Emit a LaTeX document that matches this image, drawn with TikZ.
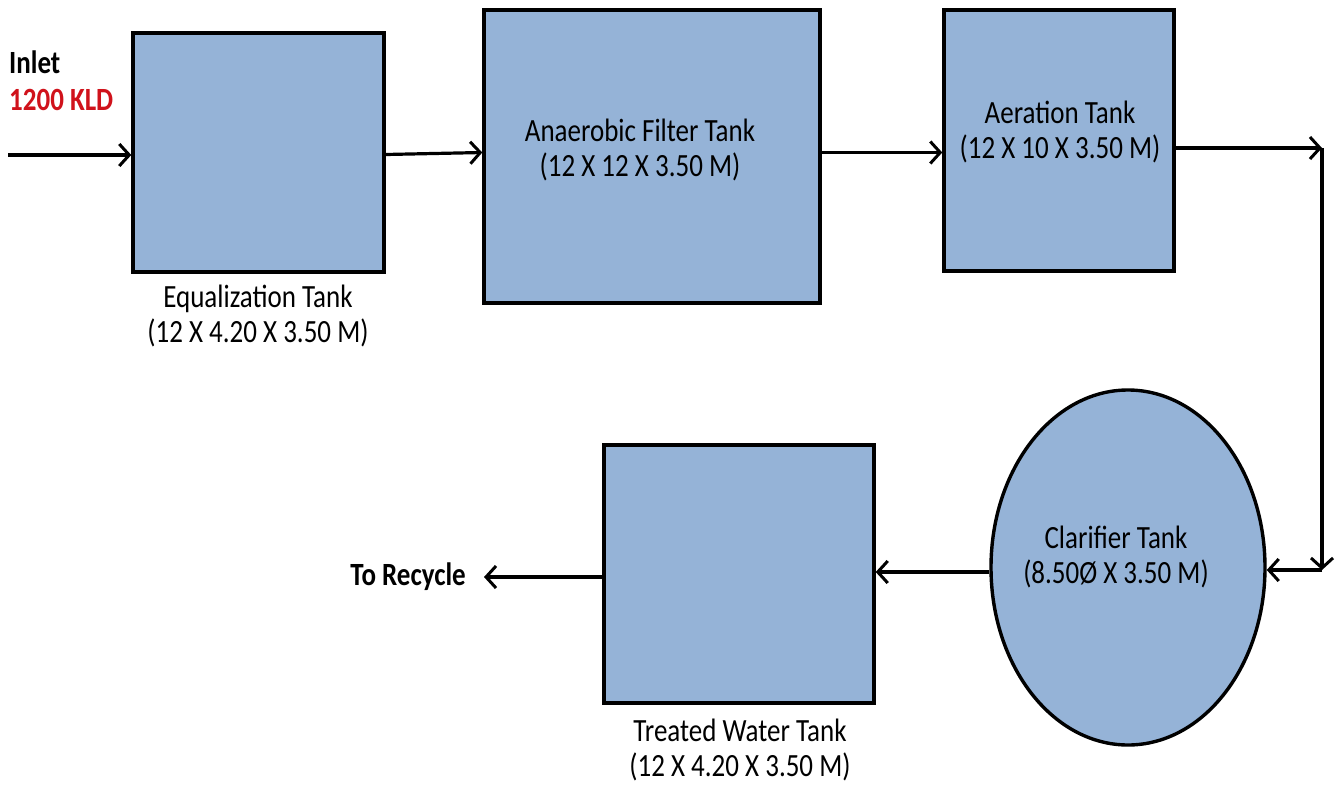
\documentclass[tikz,border=0pt]{standalone}
\usepackage{fontspec}
\usepackage{graphicx}
\setmainfont{Carlito}
\usetikzlibrary{arrows.meta,shapes.geometric,calc}
\definecolor{tankblue}{HTML}{95B3D7}
\definecolor{kldred}{HTML}{D0121B}
% text set slightly taller than wide
\newcommand{\tallline}[1]{\scalebox{1}[1.2]{#1}}
\begin{document}
\begin{tikzpicture}[x=1pt,y=-1pt,
  tank/.style={draw=black,line width=3.4pt,fill=tankblue,inner sep=0pt},
  flow/.style={line width=3.2pt,-{Straight Barb[length=10pt,width=22pt,line width=3pt]}},
  lbl/.style={font=\fontsize{27}{35}\selectfont,align=center,inner sep=0pt},
  blbl/.style={font=\fontsize{27}{35}\selectfont\bfseries,inner sep=0pt}]
\useasboundingbox (0,0) rectangle (1336,787);
% tanks
\node[tank,minimum width=251pt,minimum height=239pt] (eq) at (258.5,152.5) {};
\node[tank,minimum width=336pt,minimum height=293pt] (an) at (652,156.5) {};
\node[tank,minimum width=230pt,minimum height=261pt] (aer) at (1059,140.5) {};
\node[tank,ellipse,minimum width=274pt,minimum height=355pt] (cl) at (1128,567.5) {};
\node[tank,minimum width=270pt,minimum height=258pt] (tr) at (739,574) {};
% labels
\node[blbl,anchor=west] (inlet) at (9,62) {\tallline{Inlet}};
\node[blbl,anchor=west,text=kldred] (kld) at (9,100) {\tallline{1200 KLD}};
\node[lbl] (eqt) at (258,316) {\tallline{Equalization Tank}\\\tallline{(12 X 4.20 X 3.50 M)}};
\node[lbl] (ant) at (640,150) {\tallline{Anaerobic Filter Tank}\\\tallline{(12 X 12 X 3.50 M)}};
\node[lbl] (aert) at (1060,132) {\tallline{Aeration Tank}\\\tallline{(12 X 10 X 3.50 M)}};
\node[lbl] (clt) at (1116,557) {\tallline{Clarifier Tank}\\\tallline{(8.50Ø X 3.50 M)}};
\node[lbl] (trt) at (740,750) {\tallline{Treated Water Tank}\\\tallline{(12 X 4.20 X 3.50 M)}};
\node[blbl,anchor=east] (rec) at (466,577) {\tallline{To Recycle}};
% flow path
\coordinate (src) at (8,155);
\coordinate (bend) at (1322,148);
\coordinate (drop) at (1322,570);
\coordinate (out) at (484,577);
\draw[flow] (src) -- (src -| eq.west);
\draw[flow] ([yshift=-2pt]eq.east) -- ([yshift=4pt]an.west);
\draw[flow] ([yshift=4pt]an.east) -- ([yshift=4pt]an.east -| aer.west);
\draw[flow] ([yshift=-7.5pt]aer.east) -- (bend);
\draw[flow] (bend) -- (drop);
\draw[flow] (drop) -- (drop -| cl.east);
\draw[flow] ([yshift=-4.5pt]cl.west) -- ([yshift=-4.5pt]cl.west -| tr.east);
\draw[flow] ([yshift=-3pt]tr.west) -- (out);
\end{tikzpicture}
\end{document}
